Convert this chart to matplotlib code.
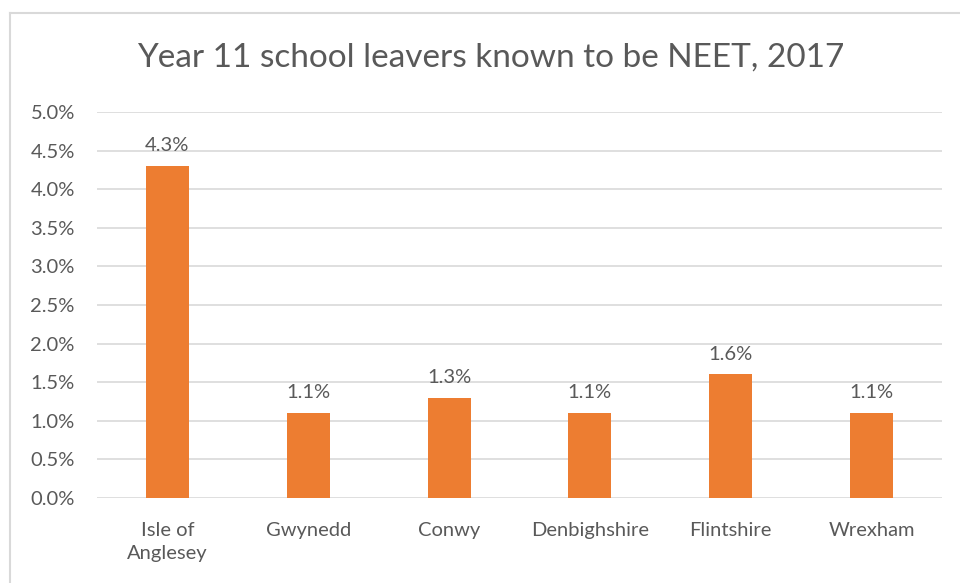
import matplotlib
matplotlib.use("Agg")
import matplotlib.pyplot as plt
from matplotlib.lines import Line2D

# data
areas = ["Isle of\nAnglesey", "Gwynedd", "Conwy", "Denbighshire", "Flintshire", "Wrexham"]
neet = [4.3, 1.1, 1.3, 1.1, 1.6, 1.1]
yticks = [0.0, 0.5, 1.0, 1.5, 2.0, 2.5, 3.0, 3.5, 4.0, 4.5, 5.0]

plt.rcParams['font.family'] = ['Lato', 'DejaVu Sans']
txt = '#595959'

fig = plt.figure(figsize=(9.6, 5.83), dpi=100)
ax = fig.add_axes([97/960, 1-498/583, 845/960, 386/583])

x = range(len(areas))
bars = ax.bar(x, neet, width=0.305, color='#ed7d31', zorder=3)
for xi, v in zip(x, neet):
    ax.text(xi, v + 0.15, f"{v:.1f}%", ha='center', va='bottom', fontsize=14.5, color=txt)

ax.set_xlim(-0.5, len(areas) - 0.5)
ax.set_ylim(0, 5.0)
ax.set_yticks(yticks)
ax.set_yticklabels([f"{t:.1f}%" for t in yticks])
ax.set_xticks(list(x))
ax.set_xticklabels(areas, linespacing=1.45)
ax.tick_params(axis='both', length=0, labelsize=14.5, labelcolor=txt)
ax.tick_params(axis='y', pad=16)
ax.tick_params(axis='x', pad=17)
ax.grid(axis='y', color='#d9d9d9', linewidth=1.2, zorder=0)
for s in ax.spines.values():
    s.set_visible(False)

fig.text(491/960, 1-58/583, "Year 11 school leavers known to be NEET, 2017",
         ha='center', va='center', fontsize=24, color=txt)

# chart frame
fig.add_artist(Line2D([10/960, 10/960], [0, 1-13/583], transform=fig.transFigure, color='#d9d9d9', lw=1.5))
fig.add_artist(Line2D([10/960, 1], [1-13/583, 1-13/583], transform=fig.transFigure, color='#d9d9d9', lw=1.5))

fig.savefig("out.png", dpi=100)
